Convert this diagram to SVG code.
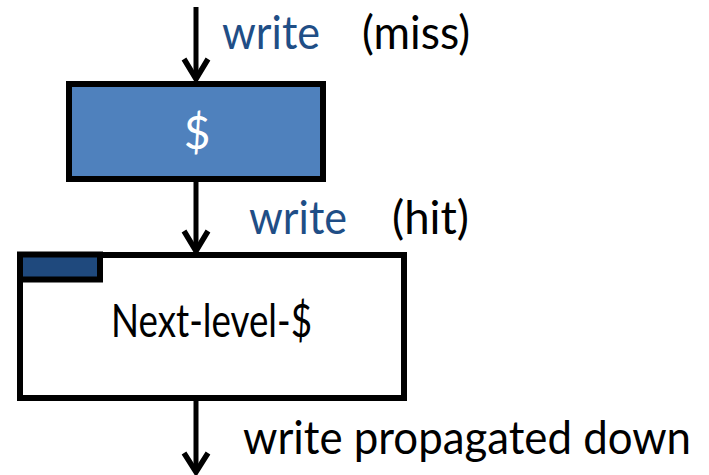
<svg xmlns="http://www.w3.org/2000/svg" width="709" height="475" viewBox="0 0 709 475">
  <style>
    .box { stroke: #000; stroke-width: 6; }
    .wire { fill: none; stroke: #000; stroke-width: 5; }
    .head { fill: none; stroke: #000; stroke-width: 5.5; stroke-linejoin: miter; stroke-miterlimit: 10; }
    .lbl { font-family: Lato, "Liberation Sans", sans-serif; font-size: 46px; }
    .op { fill: #1F4E86; }
    .note { fill: #000; }
  </style>

  <!-- Connectors -->
  <g id="connectors">
    <line class="wire" x1="196" y1="7" x2="196" y2="78"/>
    <polyline class="head" points="184,59 196,79 208,59"/>
    <line class="wire" x1="196" y1="182" x2="196" y2="250"/>
    <polyline class="head" points="184,231 196,251 208,231"/>
    <line class="wire" x1="196" y1="401" x2="196" y2="471"/>
    <polyline class="head" points="184,453 196,472 208,453"/>
  </g>

  <!-- Cache -->
  <g id="cache">
    <rect class="box" x="69" y="84" width="254" height="95" fill="#4F81BD"/>
    <text class="lbl" x="197" y="149" text-anchor="middle" fill="#FFFFFF" font-size="47">$</text>
  </g>

  <!-- Next-level cache with a written line -->
  <g id="next-level">
    <rect class="box" x="20" y="255" width="384" height="143" fill="#FFFFFF"/>
    <rect class="box" x="20" y="254.5" width="80" height="25" fill="#1F497D"/>
    <text class="lbl note" x="111" y="337" font-size="36" textLength="201" lengthAdjust="spacingAndGlyphs">Next-level-$</text>
  </g>

  <!-- Labels -->
  <g id="labels">
    <text class="lbl op" x="222" y="49" textLength="98" lengthAdjust="spacingAndGlyphs">write</text>
    <text class="lbl note" x="362" y="49" textLength="108" lengthAdjust="spacingAndGlyphs">(miss)</text>
    <text class="lbl op" x="249" y="234" textLength="98" lengthAdjust="spacingAndGlyphs">write</text>
    <text class="lbl note" x="392" y="234" textLength="77" lengthAdjust="spacingAndGlyphs">(hit)</text>
    <text class="lbl note" x="243" y="454" font-size="44" textLength="448" lengthAdjust="spacingAndGlyphs">write propagated down</text>
  </g>
</svg>
